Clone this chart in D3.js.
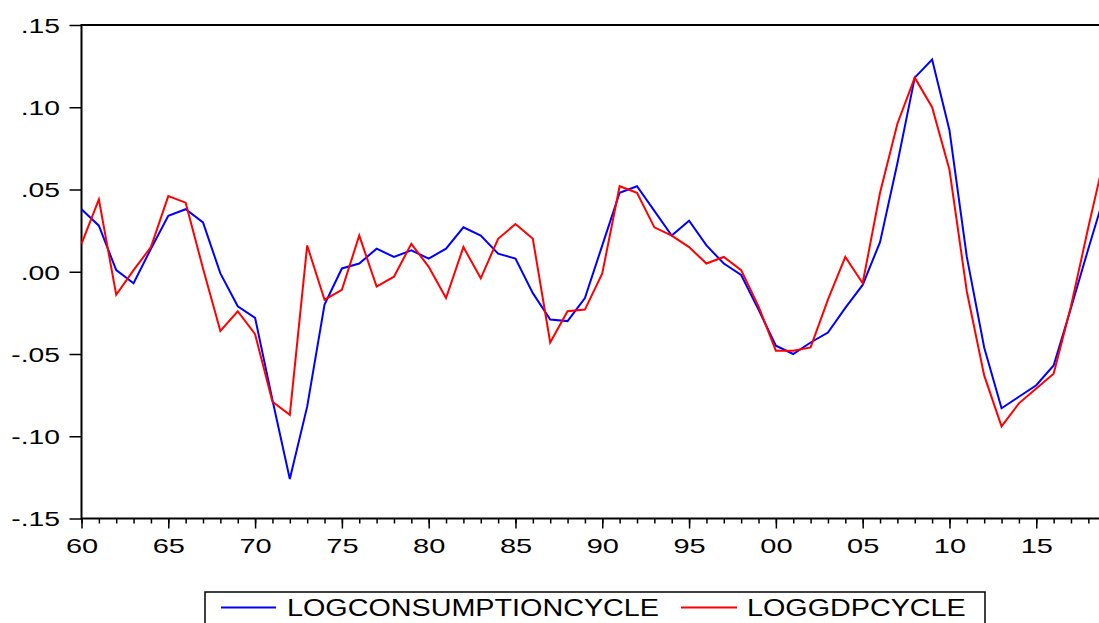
<!DOCTYPE html>
<html><head><meta charset="utf-8">
<script src="https://cdn.jsdelivr.net/npm/d3@7"></script>
<style>html,body{margin:0;padding:0;background:#fff;overflow:hidden}</style>
</head><body>
<svg id="chart" width="1099" height="623"></svg>
<script>
const years = [1960,1961,1962,1963,1964,1965,1966,1967,1968,1969,
  1970,1971,1972,1973,1974,1975,1976,1977,1978,1979,
  1980,1981,1982,1983,1984,1985,1986,1987,1988,1989,
  1990,1991,1992,1993,1994,1995,1996,1997,1998,1999,
  2000,2001,2002,2003,2004,2005,2006,2007,2008,2009,
  2010,2011,2012,2013,2014,2015,2016,2017,2018,2019];

const logConsumptionCycle = [0.038,0.028,0.001,-0.007,0.014,0.034,0.038,0.030,-0.001,-0.021,
  -0.028,-0.078,-0.126,-0.082,-0.020,0.002,0.005,0.014,0.009,0.013,
  0.008,0.014,0.027,0.022,0.011,0.008,-0.013,-0.029,-0.030,-0.016,
  0.016,0.048,0.052,0.037,0.022,0.031,0.016,0.005,-0.002,-0.023,
  -0.045,-0.050,-0.043,-0.037,-0.022,-0.008,0.018,0.066,0.118,0.129,
  0.086,0.009,-0.046,-0.083,-0.076,-0.069,-0.057,-0.022,0.014,0.049];

const logGdpCycle = [0.017,0.044,-0.014,0.001,0.015,0.046,0.042,0.002,-0.036,-0.024,
  -0.038,-0.079,-0.087,0.016,-0.017,-0.011,0.022,-0.009,-0.003,0.017,
  0.003,-0.016,0.015,-0.004,0.020,0.029,0.020,-0.043,-0.024,-0.023,
  -0.001,0.052,0.048,0.027,0.022,0.015,0.005,0.009,0.001,-0.021,
  -0.048,-0.048,-0.046,-0.017,0.009,-0.007,0.048,0.090,0.118,0.100,
  0.062,-0.012,-0.063,-0.094,-0.080,-0.071,-0.062,-0.021,0.027,0.073];

const yTickValues = [-0.15,-0.10,-0.05,0.00,0.05,0.10,0.15];
const yTickLabels = ["-.15","-.10","-.05",".00",".05",".10",".15"];
const xTickYears = [1960,1965,1970,1975,1980,1985,1990,1995,2000,2005,2010,2015];
const xTickLabels = ["60","65","70","75","80","85","90","95","00","05","10","15"];
const seriesNames = ["LOGCONSUMPTIONCYCLE","LOGGDPCYCLE"];
const seriesColors = ["#0000ff","#ff0000"];

(function () {
const svg = d3.select("#chart");
const FONT = "'Liberation Sans', Arial, Helvetica, sans-serif";
const SXY = 1.38, SXX = 1.38, SXL = 1.25;

const pL = 81.5, pT = 25, pB = 518.5, pR = 1105.7;
const x = d3.scaleLinear().domain([1960, 2019]).range([pL, pR]);
const y = d3.scaleLinear().domain([-0.15, 0.15]).range([pB, pT]);

// frame
svg.append("rect").attr("x", pL).attr("y", pT)
  .attr("width", pR - pL).attr("height", pB - pT)
  .attr("fill", "none").attr("stroke", "#000").attr("stroke-width", 2);

// y axis
const yAxis = svg.append("g").attr("transform", `translate(${pL},0)`)
  .call(d3.axisLeft(y).tickValues(yTickValues).tickSize(12)
    .tickFormat((d, i) => yTickLabels[i]));
yAxis.select(".domain").remove();
yAxis.selectAll(".tick line").attr("stroke", "#000").attr("stroke-width", 1.5);
yAxis.selectAll(".tick text")
  .attr("x", -21.5 / SXY).attr("dy", "0.36em")
  .attr("transform", `scale(${SXY},1)`)
  .style("font-family", FONT).style("font-size", "20.5px").attr("fill", "#000");

// x axis minor ticks
const xMinor = svg.append("g").attr("transform", `translate(0,${pB})`)
  .call(d3.axisBottom(x).tickValues(years).tickSize(5).tickFormat(""));
xMinor.select(".domain").remove();
xMinor.selectAll(".tick line").attr("stroke", "#000").attr("stroke-width", 1.5);

// x axis major ticks
const xAxis = svg.append("g").attr("transform", `translate(0,${pB})`)
  .call(d3.axisBottom(x).tickValues(xTickYears).tickSize(10)
    .tickFormat((d, i) => xTickLabels[i]));
xAxis.select(".domain").remove();
xAxis.selectAll(".tick line").attr("stroke", "#000").attr("stroke-width", 1.5);
xAxis.selectAll(".tick text")
  .attr("y", 35).attr("dy", 0)
  .attr("transform", `scale(${SXX},1)`)
  .style("font-family", FONT).style("font-size", "21px").attr("fill", "#000");

// lines
const series = [logConsumptionCycle, logGdpCycle];
const line = d3.line().x((d, i) => x(years[i])).y(d => y(d));
series.forEach((s, k) => {
  svg.append("path").datum(s).attr("d", line)
    .attr("fill", "none").attr("stroke", seriesColors[k])
    .attr("stroke-width", 2).attr("stroke-linejoin", "miter");
});

// legend
svg.append("rect").attr("x", 205).attr("y", 592).attr("width", 780).attr("height", 50)
  .attr("fill", "#fff").attr("stroke", "#000").attr("stroke-width", 1.5);
const legendItems = [
  {x1: 221, x2: 276, tx: 287},
  {x1: 681, x2: 737, tx: 747}
];
legendItems.forEach((it, k) => {
  svg.append("line").attr("x1", it.x1).attr("x2", it.x2).attr("y1", 607.5).attr("y2", 607.5)
    .attr("stroke", seriesColors[k]).attr("stroke-width", 2);
  svg.append("text").attr("transform", `translate(${it.tx},616) scale(${SXL},1)`)
    .style("font-family", FONT).style("font-size", "23px").attr("fill", "#000")
    .text(seriesNames[k]);
});
})();
</script>
</body></html>
